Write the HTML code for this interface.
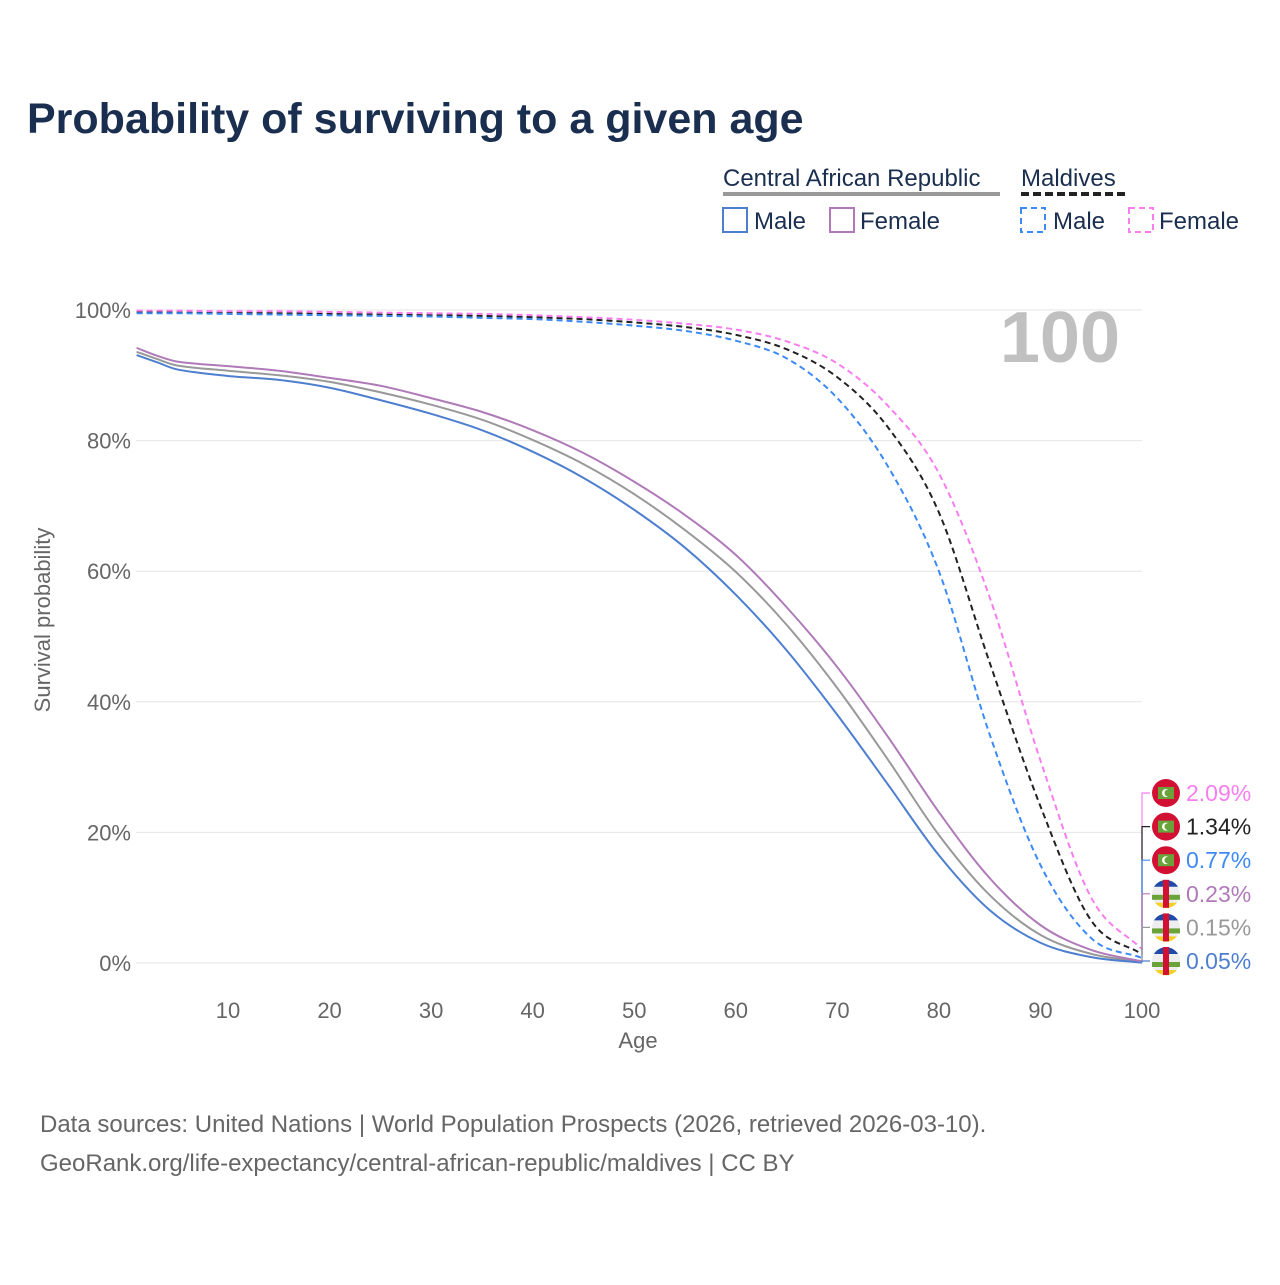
<!DOCTYPE html>
<html><head><meta charset="utf-8"><style>
body{margin:0;background:#fff;}
svg text{font-family:"Liberation Sans",sans-serif;}
</style></head><body>
<svg width="1280" height="1280" viewBox="0 0 1280 1280" xmlns="http://www.w3.org/2000/svg">
<text x="27" y="133" font-size="43" font-weight="bold" fill="#1a2e4f">Probability of surviving to a given age</text>
<g font-size="24" fill="#1a2e4f">
<text x="723" y="186">Central African Republic</text>
<line x1="723" y1="194" x2="1000" y2="194" stroke="#999" stroke-width="4"/>
<text x="1021" y="186">Maldives</text>
<line x1="1021" y1="194" x2="1125" y2="194" stroke="#222" stroke-width="4" stroke-dasharray="8,4"/>
<rect x="723" y="208" width="24" height="24" fill="none" stroke="#4e7fcf" stroke-width="2"/>
<text x="754" y="229">Male</text>
<rect x="830" y="208" width="24" height="24" fill="none" stroke="#b07ab9" stroke-width="2"/>
<text x="860" y="229">Female</text>
<rect x="1021" y="208" width="24" height="24" fill="none" stroke="#3d8af7" stroke-width="2" stroke-dasharray="6,4"/>
<text x="1053" y="229">Male</text>
<rect x="1129" y="208" width="24" height="24" fill="none" stroke="#f87ef0" stroke-width="2" stroke-dasharray="6,4"/>
<text x="1159" y="229">Female</text>
</g>
<text x="1120" y="362" font-size="72" font-weight="bold" fill="#c0c0c0" text-anchor="end">100</text>
<g id="grid"></g>
<g id="series"></g>
<g id="endlabels"></g>
<text x="638" y="1048" font-size="22" fill="#666" text-anchor="middle">Age</text>
<text transform="translate(50,620) rotate(-90)" font-size="22" fill="#666" text-anchor="middle">Survival probability</text>
<text x="40" y="1132" font-size="24" fill="#666">Data sources: United Nations | World Population Prospects (2026, retrieved 2026-03-10).</text>
<text x="40" y="1171" font-size="24" fill="#666">GeoRank.org/life-expectancy/central-african-republic/maldives | CC BY</text>
</svg>
<script>
const ages=[1,3,5,10,15,20,25,30,35,40,45,50,55,60,65,70,75,80,85,90,95,100];
const carMale=[93.1,92,90.9,89.9,89.3,88.1,86.2,84.1,81.6,78.3,74.3,69.4,63.6,56.4,47.9,38,27.3,16.5,8.1,3.1,0.9,0.05];
const carTotal=[93.6,92.5,91.5,90.7,90,89,87.4,85.5,83.2,80.1,76.4,71.8,66.3,59.9,51.8,42.1,31.1,19.6,10.4,4.3,1.4,0.15];
const carFemale=[94.2,93,92.1,91.4,90.7,89.6,88.4,86.5,84.4,81.6,78.1,73.7,68.6,62.5,54.5,45.3,34.6,23.1,13,5.8,2,0.23];
const mdvMale=[99.5,99.5,99.5,99.4,99.3,99.2,99.1,99,98.8,98.6,98.2,97.6,96.8,95.3,92.6,86.5,76,60,35,15,3.8,0.77];
const mdvTotal=[99.7,99.7,99.6,99.6,99.5,99.4,99.3,99.2,99.1,98.9,98.6,98.1,97.4,96.2,94,89.7,82,69,46,24,6.5,1.34];
const mdvFemale=[99.9,99.9,99.9,99.8,99.8,99.7,99.6,99.5,99.4,99.2,98.9,98.5,97.9,97,95.2,91.8,85.3,75,56,31,10,2.09];
const yTicks=[0,20,40,60,80,100];
const xTicks=[10,20,30,40,50,60,70,80,90,100];
const endValues=["2.09%","1.34%","0.77%","0.23%","0.15%","0.05%"];
const NS="http://www.w3.org/2000/svg";
const X=a=>228+(a-10)*(1142-228)/90;
const Y=v=>963-v*(963-310)/100;
function mk(t,at,p){const e=document.createElementNS(NS,t);for(const k in at)e.setAttribute(k,at[k]);p.appendChild(e);return e;}
const grid=document.getElementById('grid');
yTicks.forEach(v=>{
 const l=mk('line',{x1:136,x2:1142,y1:Y(v),y2:Y(v),stroke:'#e6e6e6','stroke-width':1},grid);
 
 
 const t=mk('text',{x:131,y:Y(v)+8,'font-size':22,fill:'#666','text-anchor':'end'},grid);t.textContent=v+'%';
 
 
});
xTicks.forEach(a=>{
 const t=mk('text',{x:X(a),y:1018,'font-size':22,fill:'#666','text-anchor':'middle'},grid);t.textContent=a;
 
 
});
function monoPath(xs,ys){
 const n=xs.length,d=[],m=[];
 for(let i=0;i<n-1;i++)d.push((ys[i+1]-ys[i])/(xs[i+1]-xs[i]));
 m[0]=d[0];m[n-1]=d[n-2];
 for(let i=1;i<n-1;i++){
  if(d[i-1]*d[i]<=0){m[i]=0;continue;}
  m[i]=(ys[i+1]-ys[i-1])/(xs[i+1]-xs[i-1]);
 }
 for(let i=0;i<n-1;i++){
  if(d[i]===0){m[i]=0;m[i+1]=0;continue;}
  const a=m[i]/d[i],b=m[i+1]/d[i],s=a*a+b*b;
  if(s>9){const t=3/Math.sqrt(s);m[i]=t*a*d[i];m[i+1]=t*b*d[i];}
 }
 let p='M'+xs[0]+','+ys[0];
 for(let i=0;i<n-1;i++){const h=xs[i+1]-xs[i];p+=' C'+(xs[i]+h/3)+','+(ys[i]+m[i]*h/3)+' '+(xs[i+1]-h/3)+','+(ys[i+1]-m[i+1]*h/3)+' '+xs[i+1]+','+ys[i+1];}
 return p;
}
const series=document.getElementById('series');
const defs=[[carTotal,'#999',null,'car-total-line'],[carMale,'#4e7fcf',null,'car-male-line'],[carFemale,'#b07ab9',null,'car-female-line'],[mdvTotal,'#222','6,4','mdv-total-line'],[mdvMale,'#3d8af7','6,4','mdv-male-line'],[mdvFemale,'#f87ef0','6,4','mdv-female-line']];
defs.forEach(([vals,c,dash,name])=>{
 const at={d:monoPath(ages.map(X),vals.map(Y)),fill:'none',stroke:c,'stroke-width':2};
 if(dash)at['stroke-dasharray']=dash;
 const p=mk('path',at,series);
 
 
});
const el=document.getElementById('endlabels');
const labs=[[mdvFemale,'#f87ef0','mdv'],[mdvTotal,'#222','mdv'],[mdvMale,'#3d8af7','mdv'],[carFemale,'#b07ab9','car'],[carTotal,'#999','car'],[carMale,'#4e7fcf','car']];
labs.forEach(([vals,c,f],i)=>{
 const ly=793+i*33.6,vy=Y(vals[vals.length-1]);
 mk('path',{d:`M1142,${vy} L1142,${ly} L1150,${ly}`,fill:'none',stroke:c,'stroke-width':1.2},el);
 const cx=1166;
 if(f==='mdv'){
  mk('circle',{cx:cx,cy:ly,r:14,fill:'#d21034'},el);
  mk('rect',{x:cx-8,y:ly-6,width:16,height:12,fill:'#6aa33a'},el);
  mk('circle',{cx:cx,cy:ly,r:4,fill:'#fff'},el);
  mk('circle',{cx:cx+2,cy:ly,r:3.5,fill:'#6aa33a'},el);
 }else{
  mk('circle',{cx:cx,cy:ly,r:14,fill:'#eee'},el);
  mk('path',{d:`M${cx-12},${ly-7} A14,14 0 0 1 ${cx+12},${ly-7} Z`,fill:'#1f4aa8'},el);
  mk('rect',{x:cx-14,y:ly+1,width:28,height:5,fill:'#6aa33a'},el);
  mk('path',{d:`M${cx-11},${ly+9} A14,14 0 0 0 ${cx+11},${ly+9} Z`,fill:'#f5d02a'},el);
  mk('rect',{x:cx-3,y:ly-14,width:6,height:28,fill:'#d21034'},el);
 }
 const t=mk('text',{x:1186,y:ly+8,'font-size':23,fill:c},el);
 t.textContent=endValues[i];
 
 
});
</script>
</body></html>
